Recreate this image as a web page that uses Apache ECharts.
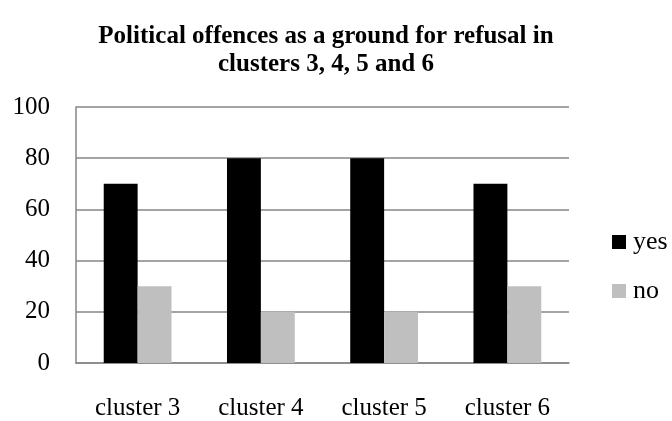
<!DOCTYPE html>
<html><head><meta charset="utf-8">
<script src="https://cdn.jsdelivr.net/npm/echarts@6/dist/echarts.min.js"></script>
<style>html,body{margin:0;padding:0;background:#fff}#c{width:672px;height:421px}</style>
</head><body><div id="c"></div>
<script>
const categories = ['cluster 3', 'cluster 4', 'cluster 5', 'cluster 6'];
const yesValues = [70, 80, 80, 70];
const noValues = [30, 20, 20, 30];
const seriesNames = ['yes', 'no'];
const font = '"Liberation Serif", serif';
const chart = echarts.init(document.getElementById('c'), null, {renderer: 'canvas'});
chart.setOption({
  animation: false,
  backgroundColor: '#fff',
  title: {
    text: 'Political offences as a ground for refusal in\nclusters 3, 4, 5 and 6',
    left: 321, top: 18, textAlign: 'center',
    textStyle: {fontFamily: font, fontWeight: 'bold', fontSize: 25, color: '#000', lineHeight: 28}
  },
  legend: {
    orient: 'vertical', left: 612, top: 229, itemGap: 23,
    itemWidth: 14, itemHeight: 14, icon: 'rect', padding: 0,
    textStyle: {fontFamily: font, fontSize: 26, color: '#000', padding: [0,0,0,2]},
    data: seriesNames
  },
  grid: {left: 76, right: 103, top: 107, bottom: 55, containLabel: false},
  xAxis: {
    type: 'category', data: categories,
    axisLine: {lineStyle: {color: '#868686', width: 1.5}},
    axisTick: {show: false},
    axisLabel: {fontFamily: font, fontSize: 25, color: '#000', margin: 33}
  },
  yAxis: {
    type: 'value', min: 0, max: 100, interval: 20,
    axisLine: {show: true, lineStyle: {color: '#868686', width: 1.5}},
    axisTick: {show: false},
    splitLine: {lineStyle: {color: '#868686', width: 1.5}},
    axisLabel: {fontFamily: font, fontSize: 25, color: '#000', margin: 26}
  },
  series: [
    {name: seriesNames[0], type: 'bar', data: yesValues, itemStyle: {color: '#000'}, barGap: '0%', barCategoryGap: '45%'},
    {name: seriesNames[1], type: 'bar', data: noValues, itemStyle: {color: '#bfbfbf'}}
  ]
});
</script></body></html>
